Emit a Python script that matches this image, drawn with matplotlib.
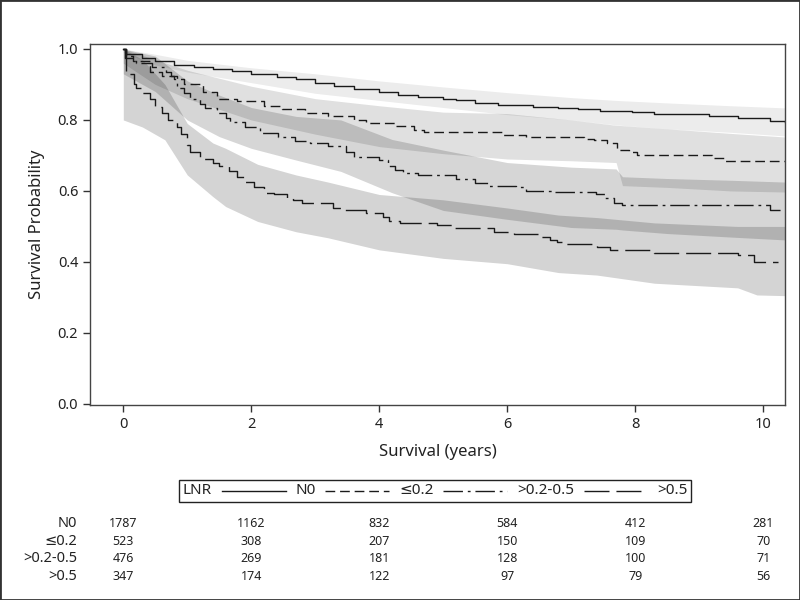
import matplotlib
matplotlib.use("Agg")
import matplotlib.pyplot as plt
from matplotlib.lines import Line2D
from matplotlib.patches import Rectangle
from matplotlib.transforms import blended_transform_factory
from matplotlib.offsetbox import AnchoredOffsetbox, HPacker, TextArea, DrawingArea

plt.rcParams['font.family'] = ['Noto Sans', 'DejaVu Sans']

# Kaplan-Meier curves (step)
n0_t = [0, 0.05, 0.3, 0.5, 0.8, 1.1, 1.4, 1.7, 2.0, 2.4, 2.7, 3.0, 3.3, 3.6, 4.0, 4.3,
        4.6, 5.0, 5.2, 5.5, 5.85, 6.4, 6.8, 7.1, 7.45, 7.95, 8.3, 9.15, 9.6, 10.1, 10.34]
n0_s = [1.0, 0.985, 0.975, 0.966, 0.955, 0.95, 0.944, 0.938, 0.93, 0.921, 0.914, 0.905,
        0.897, 0.888, 0.878, 0.87, 0.865, 0.86, 0.855, 0.848, 0.842, 0.837, 0.833, 0.83,
        0.826, 0.822, 0.816, 0.81, 0.805, 0.798, 0.795]

low_t = [0, 0.05, 0.15, 0.42, 0.6, 0.8, 0.95, 1.25, 1.46, 1.78, 2.2, 2.48, 2.84, 3.2, 3.6,
         3.8, 4.25, 4.55, 4.7, 5.94, 6.3, 7.2, 7.35, 7.56, 7.72, 7.9, 8.03, 9.2, 9.38, 10.34]
low_s = [1.0, 0.98, 0.965, 0.935, 0.925, 0.915, 0.90, 0.88, 0.858, 0.852, 0.84, 0.83, 0.82,
         0.81, 0.80, 0.79, 0.783, 0.772, 0.767, 0.758, 0.751, 0.746, 0.743, 0.734, 0.715,
         0.711, 0.70, 0.692, 0.683, 0.683]

mid_t = [0, 0.03, 0.2, 0.45, 0.66, 0.75, 0.84, 0.95, 1.05, 1.2, 1.28, 1.46, 1.6, 1.67, 1.9,
         2.14, 2.42, 2.69, 2.92, 3.2, 3.48, 3.6, 4.0, 4.14, 4.25, 4.37, 4.6, 5.2, 5.5, 5.7,
         6.13, 6.3, 6.7, 7.38, 7.53, 7.66, 7.8, 10.1, 10.34]
mid_s = [1.0, 0.975, 0.96, 0.95, 0.935, 0.925, 0.89, 0.875, 0.86, 0.845, 0.835, 0.819, 0.805,
         0.795, 0.779, 0.764, 0.753, 0.742, 0.734, 0.727, 0.71, 0.695, 0.688, 0.67, 0.66,
         0.65, 0.645, 0.635, 0.622, 0.614, 0.61, 0.60, 0.598, 0.592, 0.58, 0.566, 0.56,
         0.546, 0.546]

high_t = [0, 0.05, 0.16, 0.2, 0.3, 0.42, 0.5, 0.6, 0.7, 0.84, 0.9, 1.0, 1.05, 1.2, 1.4, 1.5,
          1.65, 1.78, 1.9, 2.05, 2.2, 2.35, 2.56, 2.65, 2.8, 3.27, 3.4, 3.8, 4.06, 4.15, 4.33,
          4.9, 5.16, 5.8, 6.1, 6.5, 6.67, 6.78, 6.85, 7.4, 7.6, 8.3, 9.6, 9.85, 10.23]
high_s = [1.0, 0.93, 0.90, 0.89, 0.875, 0.86, 0.837, 0.82, 0.80, 0.78, 0.76, 0.73, 0.71, 0.69,
          0.68, 0.67, 0.655, 0.64, 0.625, 0.61, 0.594, 0.59, 0.58, 0.575, 0.566, 0.552, 0.546,
          0.538, 0.528, 0.514, 0.51, 0.504, 0.495, 0.485, 0.48, 0.47, 0.462, 0.456, 0.45,
          0.443, 0.434, 0.426, 0.42, 0.40, 0.40]

# confidence bands
n0_bt = [0, 0.5, 1, 2, 3, 4, 5, 6, 7, 7.7, 8.5, 9.5, 10.34]
n0_lo = [0.99, 0.955, 0.935, 0.905, 0.875, 0.855, 0.835, 0.815, 0.80, 0.786, 0.775, 0.765, 0.755]
n0_hi = [1.0, 0.985, 0.968, 0.947, 0.93, 0.91, 0.893, 0.877, 0.863, 0.855, 0.848, 0.84, 0.834]

low_bt = [0, 0.5, 1, 2, 3, 4, 5, 6, 7, 7.7, 7.8, 8.5, 9.5, 10.34]
low_lo = [0.96, 0.90, 0.86, 0.80, 0.76, 0.725, 0.705, 0.69, 0.685, 0.68, 0.615, 0.61, 0.60, 0.597]
low_hi = [1.0, 0.97, 0.94, 0.895, 0.86, 0.84, 0.822, 0.818, 0.80, 0.785, 0.784, 0.775, 0.762, 0.752]

mid_bt = [0, 0.5, 1, 1.5, 2, 2.7, 3.4, 4.2, 5, 6, 7, 7.7, 7.8, 8.5, 9.5, 10.34]
mid_lo = [0.93, 0.88, 0.80, 0.753, 0.72, 0.687, 0.655, 0.595, 0.545, 0.52, 0.497, 0.492,
          0.49, 0.48, 0.47, 0.462]
mid_hi = [1.0, 0.98, 0.91, 0.87, 0.835, 0.81, 0.80, 0.745, 0.715, 0.68, 0.667, 0.662,
          0.64, 0.635, 0.63, 0.625]

high_bt = [0, 0.3, 0.65, 1, 1.4, 1.6, 2.1, 2.7, 3.2, 4, 5, 6, 6.8, 7.4, 8.3, 9.6, 9.9, 10.34]
high_lo = [0.80, 0.78, 0.744, 0.645, 0.584, 0.556, 0.514, 0.485, 0.468, 0.434, 0.41, 0.395,
           0.37, 0.363, 0.34, 0.327, 0.307, 0.305]
high_hi = [1.0, 0.97, 0.90, 0.79, 0.735, 0.72, 0.675, 0.645, 0.625, 0.59, 0.575, 0.552, 0.532,
           0.525, 0.51, 0.50, 0.50, 0.50]

groups = ['N0', '≤0.2', '>0.2-0.5', '>0.5']
risk_times = [0, 2, 4, 6, 8, 10]
at_risk = {
    'N0': [1787, 1162, 832, 584, 412, 281],
    '≤0.2': [523, 308, 207, 150, 109, 70],
    '>0.2-0.5': [476, 269, 181, 128, 100, 71],
    '>0.5': [347, 174, 122, 97, 79, 56],
}

curves = [(n0_t, n0_s), (low_t, low_s), (mid_t, mid_s), (high_t, high_s)]
bands = [(n0_bt, n0_lo, n0_hi), (low_bt, low_lo, low_hi),
         (mid_bt, mid_lo, mid_hi), (high_bt, high_lo, high_hi)]
band_alpha = [0.075, 0.12, 0.16, 0.17]
styles = ['-', (0, (7, 3.5)), (0, (14, 3.5, 2, 3.5)), (0, (18, 5))]

fig = plt.figure(figsize=(8, 6), dpi=100)
ax = fig.add_axes([0.1125, 0.325, 0.8688, 0.6017])

for (bt, lo, hi), a in zip(bands, band_alpha):
    ax.fill_between(bt, lo, hi, color='black', alpha=a, linewidth=0)

for (t, s), ls in zip(curves, styles):
    ax.step(t, s, where='post', color='#1a1a1a', linewidth=1.0, linestyle=ls)

ax.set_xlim(-0.52, 10.34)
ax.set_ylim(-0.003, 1.014)
ax.set_xticks([0, 2, 4, 6, 8, 10])
ax.set_yticks([0.0, 0.2, 0.4, 0.6, 0.8, 1.0])
ax.set_yticklabels(['0.0', '0.2', '0.4', '0.6', '0.8', '1.0'])
ax.tick_params(direction='out', length=5, width=1, color='#333333', labelsize=10.5,
               labelcolor='#222222')
for sp in ax.spines.values():
    sp.set_color('#444444')
    sp.set_linewidth(1.0)
ax.set_xlabel('Survival (years)', fontsize=12, color='#222222', labelpad=9)
ax.set_ylabel('Survival Probability', fontsize=12, color='#222222', labelpad=9)

# legend in one row, title in front
items = [TextArea('LNR', textprops=dict(size=11, color='#222222'))]
for lab, ls in zip(groups, styles):
    da = DrawingArea(46, 8)
    da.add_artist(Line2D([0, 46], [4, 4], color='#1a1a1a', linewidth=1.0, linestyle=ls))
    items += [da, TextArea(lab, textprops=dict(size=11, color='#222222'))]
row = HPacker(children=items, align='center', pad=0, sep=7)
leg = AnchoredOffsetbox(loc='center', child=row, pad=0.25, borderpad=0, frameon=True,
                        bbox_to_anchor=(0.544, 0.182), bbox_transform=fig.transFigure)
leg.patch.set_boxstyle('square', pad=0)
leg.patch.set_edgecolor('#222222')
leg.patch.set_linewidth(1.0)
fig.add_artist(leg)

# number at risk
tr = blended_transform_factory(ax.transData, fig.transFigure)
row_y = [0.128, 0.098, 0.069, 0.039]
for g, y in zip(groups, row_y):
    fig.text(0.096, y, g, ha='right', va='center', fontsize=10.5, color='#222222')
    for t, n in zip(risk_times, at_risk[g]):
        ax.text(t, y, str(n), transform=tr, ha='center', va='center', fontsize=9,
                color='#222222', clip_on=False)

fig.patches.append(Rectangle((0, 0), 1, 1, transform=fig.transFigure, fill=False,
                             edgecolor='#333333', linewidth=2))

fig.savefig('out.png', dpi=100)
